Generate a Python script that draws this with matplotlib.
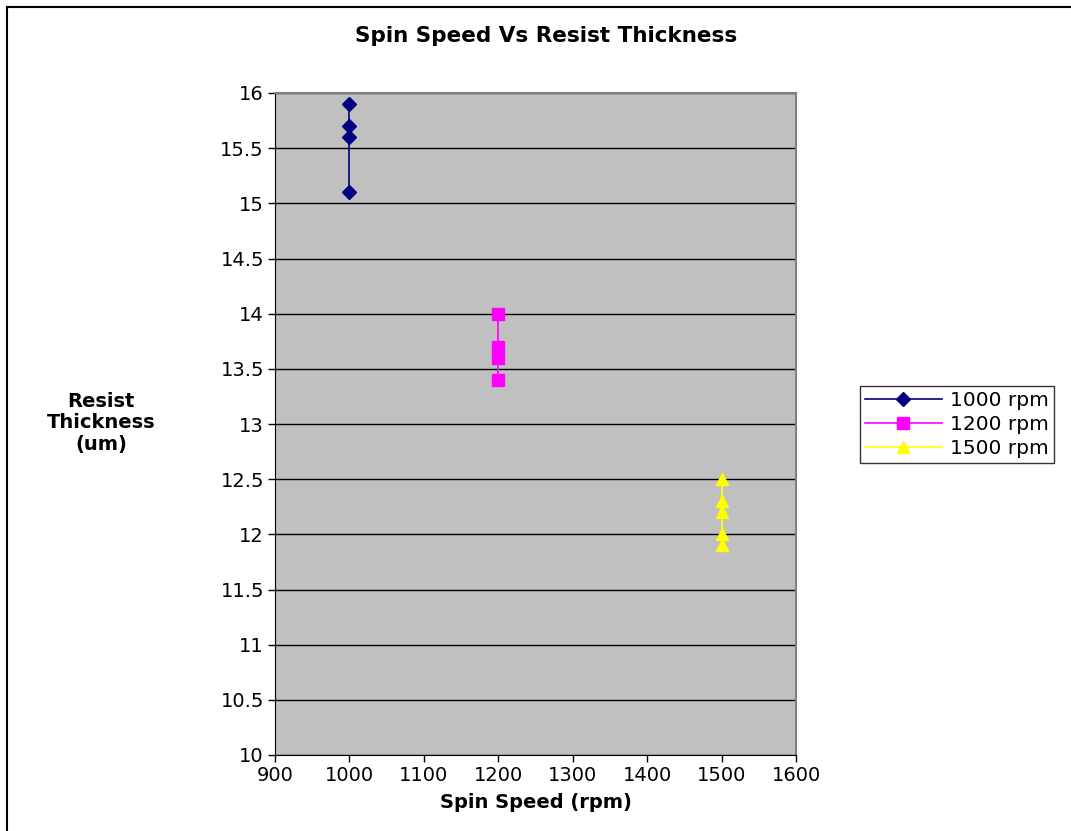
import matplotlib
matplotlib.use('Agg')
import matplotlib.pyplot as plt
from matplotlib.lines import Line2D

plt.rcParams['font.family']=['DejaVu Sans']

# resist thickness (um) measured at each spin speed
speed_1000=[1000,1000,1000,1000]
thick_1000=[15.9,15.7,15.6,15.1]
speed_1200=[1200,1200,1200,1200]
thick_1200=[14.0,13.7,13.6,13.4]
speed_1500=[1500,1500,1500,1500,1500]
thick_1500=[12.5,12.3,12.2,12.0,11.9]
labels=['1000 rpm','1200 rpm','1500 rpm']

W,H=1071,831
fs=14
fig=plt.figure(figsize=(W/100,H/100),dpi=100)
fig.patch.set_facecolor('white')
ax=fig.add_axes([275/W,1-755/H,(796-275)/W,(755-93)/H])
ax.set_facecolor('#c0c0c0')

ax.plot(speed_1000,thick_1000,color='#000080',marker='D',markersize=7,lw=1.2,label=labels[0])
ax.plot(speed_1200,thick_1200,color='#ff00ff',marker='s',markersize=8,lw=1.2,label=labels[1])
ax.plot(speed_1500,thick_1500,color='#ffff00',marker='^',markersize=9,lw=1.2,label=labels[2])

ax.set_xlim(900,1600)
ax.set_ylim(10,16)
ax.set_xticks(range(900,1601,100))
ax.set_yticks([10+0.5*i for i in range(13)])
ax.set_yticklabels(['%g'%(10+0.5*i) for i in range(13)])
ax.yaxis.grid(True,color='black',lw=1)
ax.set_axisbelow(True)
ax.tick_params(axis='both',labelsize=fs,direction='out',length=5,width=1,pad=3)
for s in ['left','bottom']:
	ax.spines[s].set_color('black')
for s in ['top','right']:
	ax.spines[s].set_color('#808080')
	ax.spines[s].set_linewidth(1.5)

fig.text(546/W,1-36/H,'Spin Speed Vs Resist Thickness',ha='center',va='center',fontsize=15.5,fontweight='bold')
fig.text(536/W,1-803/H,'Spin Speed (rpm)',ha='center',va='center',fontsize=fs,fontweight='bold')
fig.text(101/W,1-423/H,'Resist\nThickness\n(um)',ha='center',va='center',fontsize=fs,fontweight='bold',linespacing=1.15)

leg=ax.legend(loc='upper left',bbox_to_anchor=(860/W,1-386/H),bbox_transform=fig.transFigure,
	fontsize=fs+0.5,frameon=True,fancybox=False,edgecolor='black',handlelength=3.8,handletextpad=0.4,
	borderpad=0.25,labelspacing=0.25,borderaxespad=0)
leg.get_frame().set_linewidth(1)

# outer chart border
fig.add_artist(Line2D([6.5/W,6.5/W],[0,1-6.5/H],color='black',lw=1.5,transform=fig.transFigure))
fig.add_artist(Line2D([6.5/W,1],[1-6.5/H,1-6.5/H],color='black',lw=1.5,transform=fig.transFigure))

fig.savefig('out.png',dpi=100)
